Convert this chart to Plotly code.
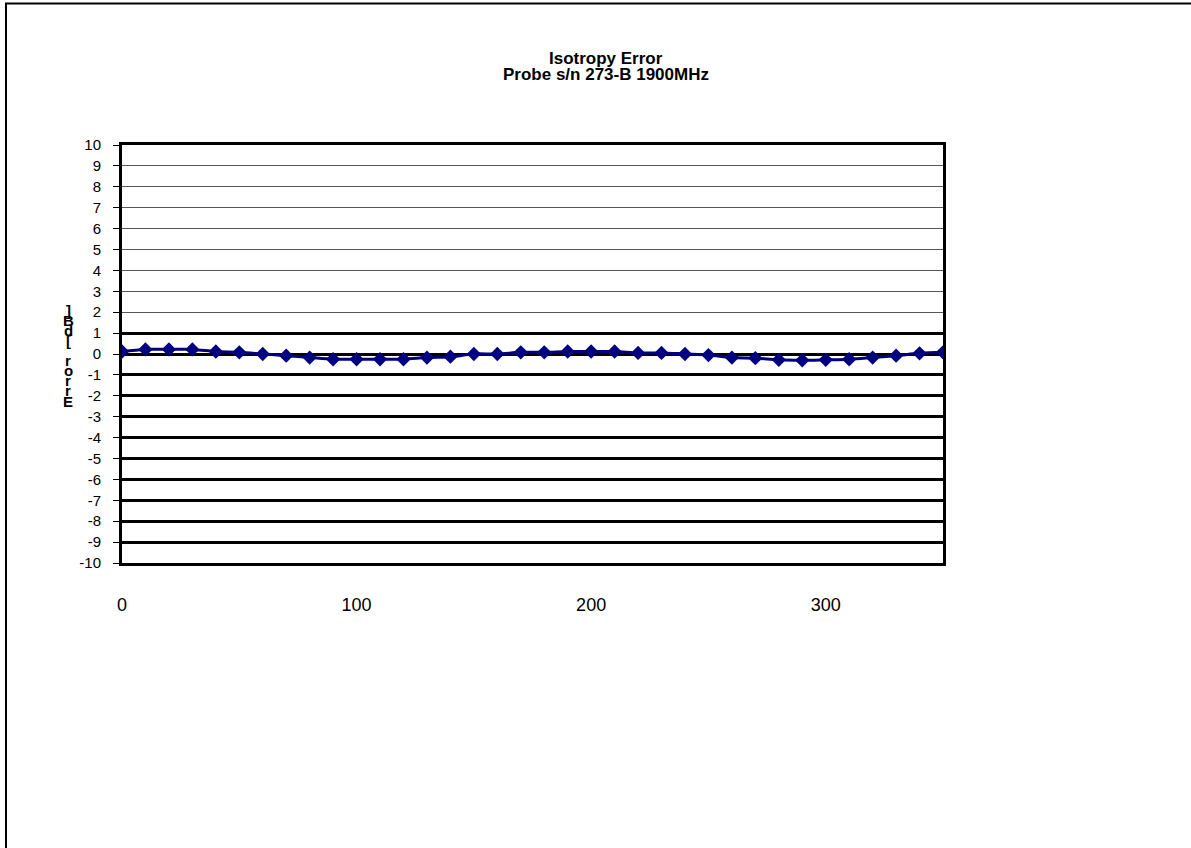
import plotly.graph_objects as go

# ---- data ----
angles = [0, 10, 20, 30, 40, 50, 60, 70, 80, 90, 100, 110, 120, 130, 140, 150, 160, 170,
          180, 190, 200, 210, 220, 230, 240, 250, 260, 270, 280, 290, 300, 310, 320, 330, 340, 350]
error_db = [0.12, 0.22, 0.22, 0.22, 0.12, 0.08, 0.0, -0.08, -0.17, -0.25, -0.25, -0.25, -0.25, -0.17, -0.13, 0.0, 0.0, 0.08,
            0.08, 0.12, 0.12, 0.12, 0.05, 0.05, 0.0, -0.05, -0.17, -0.2, -0.28, -0.3, -0.28, -0.25, -0.17, -0.08, 0.03, 0.08]
y_ticks = list(range(-10, 11))
y_ticktext = [str(v) for v in y_ticks]
x_ticks = [0, 100, 200, 300]
x_ticktext = [str(v) for v in x_ticks]
thick_grid = [-9, -8, -7, -6, -5, -4, -3, -2, -1, 0, 1]
title_lines = ["Isotropy Error", "Probe s/n 273-B 1900MHz"]
y_title = "Error [dB]"

W, H = 1191, 848
L, R, T, B = 122, 943, 145, 563
FONT = "Liberation Sans, Arial, sans-serif"


def px_x(px):
    return (px - L) / (R - L)


def px_y(py):
    return (B - py) / (B - T)


fig = go.Figure()
fig.add_trace(go.Scatter(
    x=angles, y=error_db, mode="lines+markers",
    line=dict(color="#000080", width=3, shape="spline"),
    marker=dict(symbol="diamond", size=11, color="#000080"),
    showlegend=False, hoverinfo="x+y"))
# helper trace so the overlay axis with heavy grid lines is rendered
fig.add_trace(go.Scatter(x=[None], y=[None], yaxis="y2", showlegend=False, hoverinfo="skip"))

annotations = []
# title, two lines
for i, line in enumerate(title_lines):
    annotations.append(dict(
        text="<b>%s</b>" % line, xref="paper", yref="paper",
        x=px_x(606), y=px_y(58 + i * 17), showarrow=False,
        xanchor="center", yanchor="middle",
        font=dict(family=FONT, size=17, color="black")))
# stacked vertical y-axis title (upright letters)
step = 10.1
base_py = 401
for i, ch in enumerate(y_title):
    if ch == " ":
        continue
    annotations.append(dict(
        text="<b>%s</b>" % ch, xref="paper", yref="paper",
        x=px_x(68), y=px_y(base_py - i * step), showarrow=False,
        xanchor="center", yanchor="middle",
        font=dict(family=FONT, size=15, color="black")))

fig.update_layout(
    width=W, height=H,
    margin=dict(l=L, r=W - R, t=T, b=H - B, pad=0),
    paper_bgcolor="white", plot_bgcolor="white",
    xaxis=dict(range=[0, 350], tickvals=x_ticks, ticktext=x_ticktext, ticks="", showgrid=False,
               zeroline=False, showline=True, linecolor="black", linewidth=3, mirror=True,
               tickfont=dict(family=FONT, size=18, color="black"),
               ticklabelstandoff=23),
    yaxis=dict(range=[-10, 10], tickvals=y_ticks, ticktext=y_ticktext, ticks="outside", ticklen=6,
               tickcolor="black", tickwidth=1,
               showgrid=True, gridcolor="#555555", gridwidth=1, zeroline=False,
               showline=True, linecolor="black", linewidth=3, mirror=True,
               tickfont=dict(family=FONT, size=15, color="black"),
               ticklabelstandoff=9),
    yaxis2=dict(range=[-10, 10], overlaying="y", tickvals=thick_grid, showticklabels=False,
                ticks="", showgrid=True, gridcolor="black", gridwidth=3, zeroline=False,
                showline=False),
    annotations=annotations,
    shapes=[dict(type="rect", xref="paper", yref="paper",
                 x0=px_x(6), x1=px_x(1200), y0=px_y(860), y1=px_y(3.5),
                 line=dict(color="black", width=2), fillcolor="rgba(0,0,0,0)", layer="below")],
)

fig.write_html("out.html", config={"displayModeBar": False},
               post_script="document.body.style.margin='0';document.body.style.overflow='hidden';")
